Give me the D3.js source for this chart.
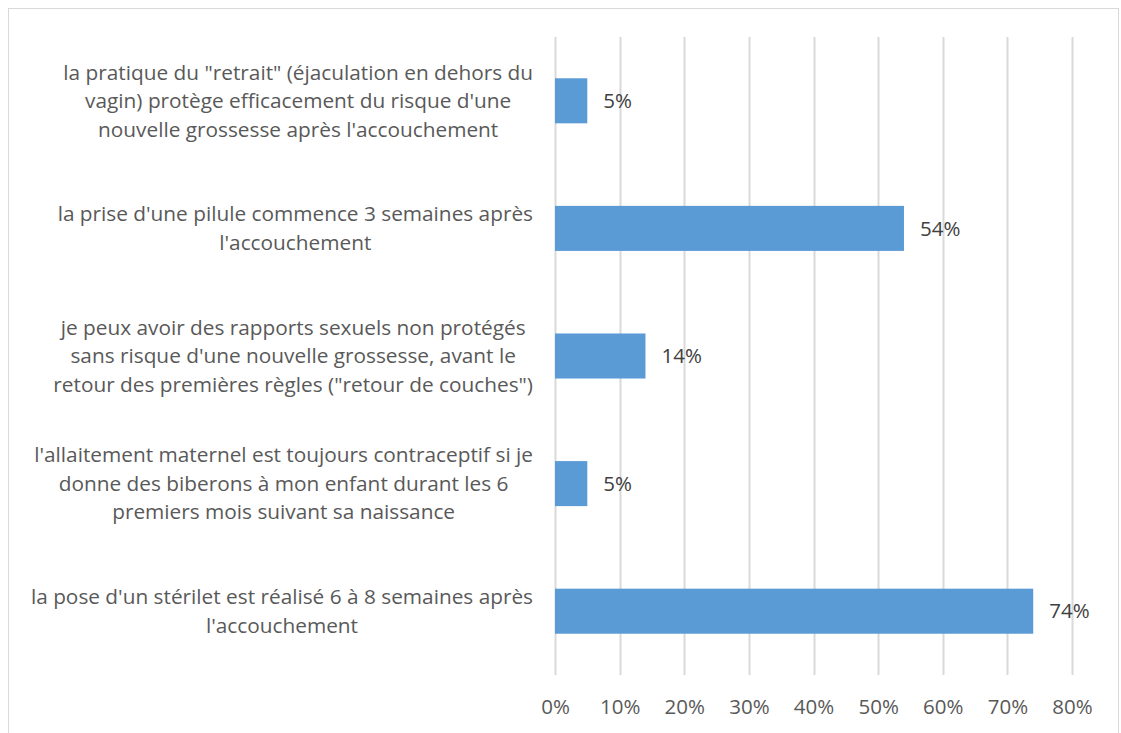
<!DOCTYPE html>
<html>
<head>
<meta charset="utf-8">
<script src="https://cdn.jsdelivr.net/npm/d3@7"></script>
<style>
  body { margin: 0; background: #fff; }
  svg text { font-family: "Open Sans", Lato, sans-serif; }
</style>
</head>
<body>
<div id="chart"></div>
<script>
const WIDTH = 1121;
const HEIGHT = 733;
const PLOT_LEFT = 555;
const PLOT_RIGHT = 1072;
const PLOT_TOP = 37;
const PLOT_BOTTOM = 675;
const LABEL_RIGHT = 533;

// categories, top to bottom, already wrapped like the original
const categories = [
  ['la pratique du "retrait" (éjaculation en dehors du', 'vagin) protège efficacement du risque d\'une', 'nouvelle grossesse après l\'accouchement'],
  ['la prise d\'une pilule commence 3 semaines après', 'l\'accouchement'],
  ['je peux avoir des rapports sexuels non protégés', 'sans risque d\'une nouvelle grossesse, avant le', 'retour des premières règles ("retour de couches")'],
  ['l\'allaitement maternel est toujours contraceptif si je', 'donne des biberons à mon enfant durant les 6', 'premiers mois suivant sa naissance'],
  ['la pose d\'un stérilet est réalisé 6 à 8 semaines après', 'l\'accouchement']
];
const values = [0.05, 0.54, 0.14, 0.05, 0.74];
const xTicks = [0, 0.1, 0.2, 0.3, 0.4, 0.5, 0.6, 0.7, 0.8];

let svg = d3.select('#chart').append('svg')
  .attr('width', WIDTH)
  .attr('height', HEIGHT);

// chart frame
svg.append('rect')
  .attr('x', 8.5)
  .attr('y', 8.5)
  .attr('width', 1110)
  .attr('height', 760)
  .attr('fill', 'none')
  .attr('stroke', '#d9d9d9');

let xScale = d3.scaleLinear()
  .domain([0, 0.8])
  .range([PLOT_LEFT, PLOT_RIGHT]);

let yScale = d3.scaleBand()
  .domain(d3.range(categories.length))
  .range([PLOT_TOP, PLOT_BOTTOM])
  .paddingInner(0.647)
  .paddingOuter(0.3235);

// gridlines
svg.append('g')
  .attr('class', 'grid')
  .selectAll('line')
  .data(xTicks)
  .enter()
  .append('line')
  .attr('x1', (d) => Math.round(xScale(d)) + 0.5)
  .attr('x2', (d) => Math.round(xScale(d)) + 0.5)
  .attr('y1', PLOT_TOP)
  .attr('y2', PLOT_BOTTOM)
  .attr('stroke', '#d9d9d9')
  .attr('stroke-width', 2);

// x axis labels
let xAxis = d3.axisBottom(xScale)
  .tickValues(xTicks)
  .tickFormat(d3.format('.0%'))
  .tickSize(0)
  .tickPadding(24);

let axisG = svg.append('g')
  .attr('transform', `translate(0, ${PLOT_BOTTOM})`)
  .call(xAxis);
axisG.select('.domain').remove();
axisG.selectAll('text')
  .attr('fill', '#595959')
  .style('font-family', '"Open Sans", sans-serif')
  .style('font-size', '20.5px');

// bars
svg.append('g')
  .selectAll('rect')
  .data(values)
  .enter()
  .append('rect')
  .attr('x', xScale(0))
  .attr('y', (d, i) => yScale(i))
  .attr('width', (d) => xScale(d) - xScale(0))
  .attr('height', yScale.bandwidth())
  .attr('fill', '#5b9bd5');

// data labels
svg.append('g')
  .selectAll('text')
  .data(values)
  .enter()
  .append('text')
  .attr('x', (d) => xScale(d) + 16)
  .attr('y', (d, i) => yScale(i) + yScale.bandwidth() / 2)
  .attr('dy', '0.35em')
  .attr('fill', '#404040')
  .style('font-size', '20.5px')
  .text((d) => d3.format('.0%')(d));

// category labels: lines centred within a block whose right edge sits by the axis
const LINE_HEIGHT = 28.5;
let labelG = svg.append('g');
categories.forEach((lines, i) => {
  let block = labelG.append('g');
  let texts = lines.map((line, j) => block.append('text')
    .attr('y', yScale(i) + yScale.bandwidth() / 2 + (j - (lines.length - 1) / 2) * LINE_HEIGHT)
    .attr('dy', '0.35em')
    .attr('text-anchor', 'middle')
    .attr('fill', '#595959')
    .style('font-size', '20.8px')
    .text(line));
  let maxW = d3.max(texts, (t) => t.node().getComputedTextLength());
  texts.forEach((t) => t.attr('x', LABEL_RIGHT - maxW / 2));
});
</script>
</body>
</html>
